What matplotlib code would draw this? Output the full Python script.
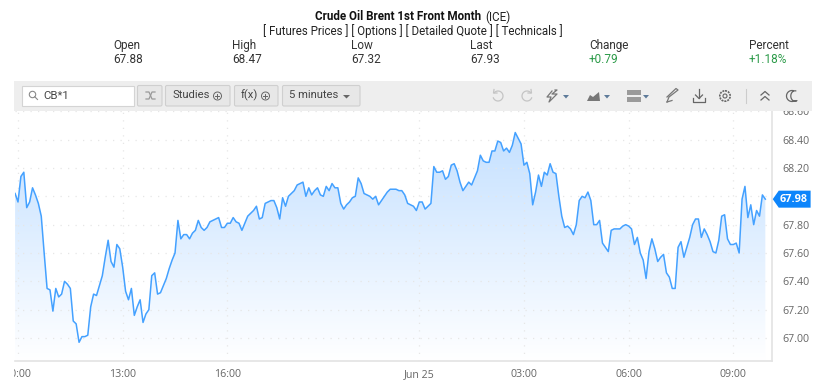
import numpy as np
import matplotlib
matplotlib.use('Agg')
import matplotlib.pyplot as plt
from matplotlib.patches import Rectangle, Polygon, Circle, FancyBboxPatch

plt.rcParams['font.family'] = ['Roboto', 'DejaVu Sans']

# 5 minute closes, first bar is one before the 10:00 tick
prices_morning = [
    68.02, 67.96, 68.14, 68.17, 67.92, 67.96, 68.06, 68.01, 67.95, 67.86,
    67.60, 67.35, 67.34, 67.19, 67.35, 67.29, 67.31, 67.40, 67.38, 67.35,
    67.12, 67.10, 66.97, 67.01, 67.01, 67.02, 67.22, 67.31, 67.30, 67.37,
    67.44, 67.57, 67.69, 67.54, 67.50, 67.66, 67.63, 67.50, 67.33, 67.27,
    67.35, 67.16, 67.22, 67.27, 67.11, 67.17, 67.20, 67.44, 67.46, 67.31,
    67.32, 67.37, 67.42, 67.49, 67.55, 67.60, 67.83, 67.70, 67.73, 67.73,
    67.70, 67.74, 67.76, 67.83, 67.78, 67.76, 67.78, 67.82,
]
prices_afternoon = [
    67.83, 67.84, 67.85, 67.78, 67.78, 67.81, 67.81, 67.85, 67.82, 67.81,
    67.76, 67.81, 67.86, 67.88, 67.90, 67.93, 67.84, 67.85, 67.95, 67.96,
    67.97, 67.97, 67.92, 67.84, 67.99, 67.93, 68.00, 68.02, 68.04, 68.08,
    68.09, 68.10, 68.00, 68.06, 68.01, 68.04, 68.06, 68.01, 68.00, 68.07,
    68.04, 68.09, 68.06, 68.06, 67.95, 67.91, 67.94, 67.96, 67.99, 68.00,
    68.13, 68.09, 68.02, 68.01, 68.00, 67.98, 68.00, 67.94, 67.97, 68.00,
    68.03, 68.05, 68.05, 68.05, 68.04, 68.04, 68.01, 67.95, 67.94,
]
prices_night = [
    67.93, 67.90, 67.96, 67.96, 67.91, 67.93, 67.95, 68.21, 68.17, 68.17,
    68.18, 68.12, 68.14, 68.22, 68.23, 68.18, 68.10, 68.04, 68.07, 68.10,
    68.08, 68.13, 68.18, 68.29, 68.25, 68.24, 68.24, 68.32, 68.32, 68.39,
    68.38, 68.32, 68.34, 68.31, 68.36, 68.45, 68.41, 68.37, 68.22, 68.24,
    68.16, 67.94, 68.03, 68.15, 68.07, 68.17, 68.15, 68.23, 68.17, 68.16,
    68.00, 67.86, 67.78, 67.79, 67.77, 67.73, 67.80, 67.97, 68.00, 67.99,
    68.03, 67.97, 67.80, 67.80, 67.83,
]
prices_last = [
    67.67, 67.64, 67.61, 67.76, 67.77, 67.77, 67.77, 67.79, 67.80, 67.79,
    67.77, 67.66, 67.71, 67.60, 67.55, 67.42, 67.61, 67.70, 67.63, 67.54,
    67.57, 67.59, 67.46, 67.43, 67.35, 67.35, 67.64, 67.68, 67.57, 67.64,
    67.71, 67.80, 67.84, 67.84, 67.71, 67.77, 67.73, 67.68, 67.61, 67.60,
    67.69, 67.86, 67.87, 67.70, 67.66, 67.66, 67.67, 67.60, 67.98, 68.07,
    67.85, 67.94, 67.80, 67.90, 67.86, 68.01, 67.98,
]
prices = prices_morning + prices_afternoon + prices_night + prices_last
bars = np.arange(len(prices)) - 1

time_ticks = [0, 36, 72, 138, 174, 210, 246]
time_labels = ['10:00', '13:00', '16:00', 'Jun 25', '03:00', '06:00', '09:00']
price_ticks = [67.0, 67.2, 67.4, 67.6, 67.8, 68.0, 68.2, 68.4, 68.6]
# 68.00 is hidden behind the last price tag
price_labels = ['67.00', '67.20', '67.40', '67.60', '67.80', '', '68.20', '68.40', '68.60']
last_tag = 67.98

stat_names = ['Open', 'High', 'Low', 'Last', 'Change', 'Percent']
stat_values = ['67.88', '68.47', '67.32', '67.93', '+0.79', '+1.18%']
stat_x = [113, 232, 351, 470, 589, 749]

LINE = '#44a1ff'
GREY = '#666666'
ICON = '#8a8a8a'
BLUE = '#0d85fb'
GREEN = '#2b9a48'

W, H = 820, 383
fig = plt.figure(figsize=(W / 100, H / 100), dpi=100)
ax = fig.add_axes([15 / W, 1 - 361 / H, 757 / W, 250 / H])
ax.set_xlim(-1.03, 259.3)
ax.set_ylim(66.838, 68.602)

# gradient fill under the line
poly = ax.fill_between(bars, prices, 66.838, color='none')
grad = np.linspace(0, 1, 256).reshape(-1, 1, 1)
top = np.array([0.77, 0.88, 1.0])
rgb = 1 - (1 - top) * grad ** 1.0
img = ax.imshow(rgb[::-1], extent=[-1.03, 259.3, 66.838, 68.47], aspect='auto', origin='upper', zorder=1)
img.set_clip_path(poly.get_paths()[0], transform=ax.transData)
ax.set_xlim(-1.03, 259.3)
ax.set_ylim(66.838, 68.602)

ax.plot(bars, prices, color=LINE, lw=1.1, zorder=3, solid_joinstyle='round')

ax.set_xticks(time_ticks, time_labels)
ax.yaxis.tick_right()
ax.set_yticks(price_ticks, price_labels)
ax.tick_params(axis='both', length=0, labelsize=7.7, labelcolor=GREY)
ax.tick_params(axis='y', pad=7.5)
ax.tick_params(axis='x', pad=6)
for lab in ax.get_xticklabels() + ax.get_yticklabels():
    lab.set_family(['Open Sans', 'DejaVu Sans'])
ax.grid(True, color='#e6e6e6', lw=0.9, linestyle=(0, (1, 5)), zorder=2)
ax.set_axisbelow(False)
for side in ['top', 'left']:
    ax.spines[side].set_visible(False)
for side in ['right', 'bottom']:
    ax.spines[side].set_color('#e3e3e3')
    ax.spines[side].set_linewidth(1.2)

# last price tag, tied to the price scale
ty = ax.get_yaxis_transform()
dx = 6.0 / 757
ax.add_patch(Polygon([(1.001, last_tag), (1.001 + dx, last_tag + 0.06), (1.051, last_tag + 0.06),
                      (1.051, last_tag - 0.06), (1.001 + dx, last_tag - 0.06)],
                     closed=True, transform=ty, clip_on=False, fc=BLUE, ec='none', zorder=6))
ax.text(1.0285, last_tag, f'{last_tag:.2f}', transform=ty, color='white', fontsize=7.8, fontweight='bold',
        family=['Open Sans', 'DejaVu Sans'], ha='center', va='center', zorder=7, clip_on=False)

# page furniture on top, in pixel coordinates
ui = fig.add_axes([0, 0, 1, 1], zorder=5)
ui.set_xlim(0, W)
ui.set_ylim(H, 0)
ui.axis('off')
ui.patch.set_alpha(0)

ui.add_patch(Rectangle((0, 361), 14.5, 22, fc='white', ec='none'))

ui.text(315.5, 17, 'Crude Oil Brent 1st Front Month', fontsize=8.4, fontweight='bold', color='#111111', va='center')
ui.text(485, 17, '(ICE)', fontsize=8.4, color='#222222', va='center')
ui.text(412.5, 31, '[ Futures Prices ] [ Options ] [ Detailed Quote ] [ Technicals ]', fontsize=8.3,
        color='#222222', ha='center', va='center')
for name, val, x in zip(stat_names, stat_values, stat_x):
    ui.text(x, 45.5, name, fontsize=8.5, color='#333333', va='center')
    ui.text(x, 59.5, val, fontsize=8.5, va='center', color=GREEN if val[0] == '+' else '#333333')

ui.add_patch(Rectangle((14, 81), 798, 29.5, fc='#eeeeee', ec='none'))
ui.add_patch(Rectangle((22.5, 85.5), 111.5, 20.5, fc='white', ec='#d4d4d4', lw=0.8))
ui.text(43.5, 96, 'CB*1', fontsize=8.2, color='#444444', va='center')
ui.add_patch(Circle((32.5, 94.5), 3.2, fc='none', ec=ICON, lw=0.8))
ui.plot([34.8, 37.5], [96.8, 99.5], color=ICON, lw=0.8)

for x0, x1 in [(137.5, 162), (165.5, 230), (234.5, 278), (282.5, 360)]:
    ui.add_patch(FancyBboxPatch((x0, 85.5), x1 - x0, 20.5, boxstyle='round,pad=0,rounding_size=1.5',
                                fc='#e7e7e7', ec='#cfcfcf', lw=0.8))
ui.text(172.5, 95.5, 'Studies', fontsize=8.1, color='#444444', va='center')
ui.text(241, 95.5, 'f(x)', fontsize=8.1, color='#444444', va='center')
ui.text(289, 95.5, '5 minutes', fontsize=8.1, color='#444444', va='center')
for cx in [217.5, 265.5]:
    ui.add_patch(Circle((cx, 96), 4, fc='none', ec='#666666', lw=0.7))
    ui.plot([cx - 2, cx + 2], [96, 96], color='#666666', lw=0.7)
    ui.plot([cx, cx], [94, 98], color='#666666', lw=0.7)
ui.add_patch(Polygon([(343, 95), (350, 95), (346.5, 98.5)], fc='#666666', ec='none'))

# shuffle icon
ui.plot([146, 149, 152, 155], [92, 92, 99, 99], color='#999999', lw=0.9)
ui.plot([146, 149, 152, 155], [99, 99, 92, 92], color='#999999', lw=0.9)

# right hand icons
a = np.linspace(0.7, 5.9, 30)
ui.plot(527 + 5 * np.cos(a), 96 - 5 * np.sin(a), color='#c4c4c4', lw=0.9)
ui.plot(498 - 5 * np.cos(a), 96 - 5 * np.sin(a), color='#c4c4c4', lw=0.9)
ui.plot([531, 531.5, 528], [89.5, 93, 93], color='#c4c4c4', lw=0.9)
ui.plot([494, 493.5, 497], [89.5, 93, 93], color='#c4c4c4', lw=0.9)
ui.plot([552, 547, 551, 549, 557, 552, 557, 555],
        [91, 97, 97, 102, 94, 94, 90, 90], color='#777777', lw=0.9)
ui.add_patch(Polygon([(587, 101), (590, 95), (593, 97), (599, 92), (600, 101)], fc='#777777', ec='none'))
ui.add_patch(Rectangle((627, 90), 14, 5, fc='#9a9a9a', ec='none'))
ui.add_patch(Rectangle((627, 97), 14, 5, fc='#9a9a9a', ec='none'))
for cx in [566, 607, 646]:
    ui.add_patch(Polygon([(cx - 3, 95), (cx + 3, 95), (cx, 98.5)], fc='#5d7a99', ec='none'))
ui.plot([667, 669, 678, 676, 667], [102, 97, 90, 88.5, 97], color='#777777', lw=0.9)
ui.plot([667, 672], [102, 100.5], color='#777777', lw=0.9)
ui.plot([699, 699], [89, 98], color='#666666', lw=0.9)
ui.plot([695.5, 699, 702.5], [95, 98.5, 95], color='#666666', lw=0.9)
ui.plot([693, 693, 705, 705], [98, 102, 102, 98], color='#666666', lw=0.9)
ui.add_patch(Circle((725, 96), 5.2, fc='none', ec='#666666', lw=1.2, ls=(0, (1.2, 0.6))))
ui.add_patch(Circle((725, 96), 2, fc='none', ec='#666666', lw=0.8))
ui.plot([746, 746], [89, 103], color='#cccccc', lw=0.8)
ui.plot([761, 765, 769], [95, 91.5, 95], color='#666666', lw=0.9)
ui.plot([761, 765, 769], [100, 96.5, 100], color='#666666', lw=0.9)
# moon
a = np.linspace(1.4, 5.2, 30)
b = np.linspace(5.2, 1.4, 30)
ui.plot(np.r_[792 + 5.5 * np.cos(a), 796.5 + 4.2 * np.cos(b) - 1.5], np.r_[96 - 5.5 * np.sin(a), 96 - 5.2 * np.sin(b)],
        color='#666666', lw=0.9)

fig.savefig('out.png', dpi=100)
